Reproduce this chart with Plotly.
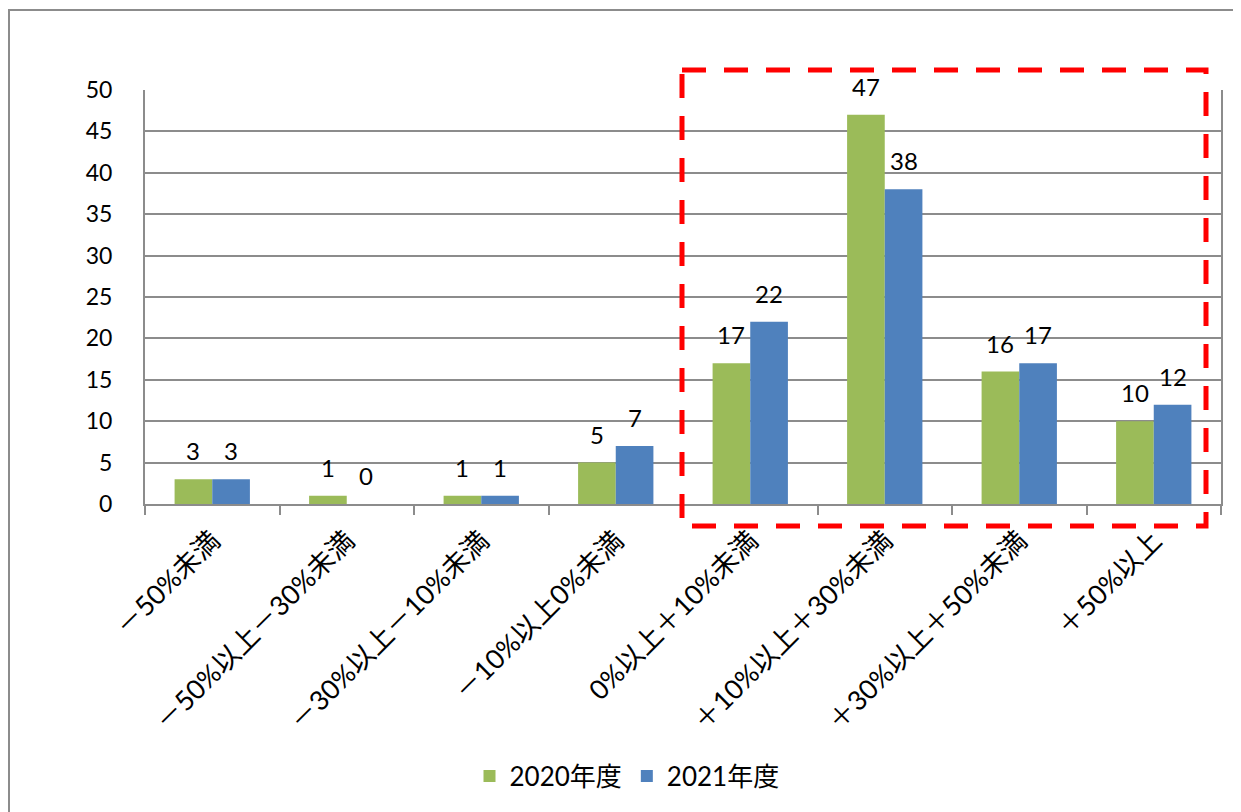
import plotly.graph_objects as go

categories = ["－50%未満", "－50%以上－30%未満", "－30%以上－10%未満", "－10%以上0%未満",
              "0%以上＋10%未満", "＋10%以上＋30%未満", "＋30%以上＋50%未満", "＋50%以上"]
series_names = ["2020年度", "2021年度"]
values_2020 = [3, 1, 1, 5, 17, 47, 16, 10]
values_2021 = [3, 0, 1, 7, 22, 38, 17, 12]
colors = ["#9BBB59", "#4F81BD"]
y_ticks = list(range(0, 51, 5))

OFF = 8  # default page body margin
W, H = 1241 - OFF, 812 - OFF
L, T = 145 - OFF, 90 - OFF
pw, ph = 1076, 414
R = W - L - pw
B = H - T - ph

FONT = "Lato, 'Noto Sans CJK JP', sans-serif"

fig = go.Figure()
for name, vals, col in zip(series_names, [values_2020, values_2021], colors):
    fig.add_trace(go.Bar(x=categories, y=vals, name=name, marker=dict(color=col, line=dict(width=0))))

# data labels
bar_half = pw / len(categories) * (1 - 0.44) / 4
for k, vals in enumerate([values_2020, values_2021]):
    shift = -bar_half if k == 0 else bar_half
    for c, v in zip(categories, vals):
        fig.add_annotation(x=c, y=v, text=str(v), showarrow=False, xref="x", yref="y",
                           xshift=shift, yshift=12, yanchor="bottom",
                           font=dict(family=FONT, size=24, color="#000"))

def px_x(p):
    return (p - OFF - L) / pw

def px_y(p):
    return (H - B - (p - OFF)) / ph

# outer frame
fig.add_shape(type="rect", xref="paper", yref="paper",
              x0=px_x(9), x1=px_x(1260), y0=px_y(10), y1=px_y(830),
              line=dict(color="#8c8c8c", width=2), layer="below")
# red dashed highlight box
fig.add_shape(type="rect", xref="paper", yref="paper",
              x0=px_x(682), x1=px_x(1206), y0=px_y(70), y1=px_y(526),
              line=dict(color="#FF0000", width=5, dash="24px,18px"))

fig.update_layout(
    width=W, height=H,
    margin=dict(l=L, r=R, t=T, b=B, autoexpand=False),
    paper_bgcolor="white", plot_bgcolor="white",
    barmode="group", bargap=0.44, bargroupgap=0,
    font=dict(family=FONT, color="#000"),
    showlegend=True,
    legend=dict(orientation="h", x=px_x(627), xanchor="center", y=px_y(776), yanchor="middle",
                font=dict(family=FONT, size=26), traceorder="normal"),
)
fig.update_xaxes(type="category", showline=True, linecolor="#8c8c8c", linewidth=2,
                 ticks="outside", tickson="boundaries", ticklen=9, tickcolor="#8c8c8c", tickwidth=2,
                 tickangle=-45, ticklabelstandoff=8, tickfont=dict(family=FONT, size=27), showgrid=False)
fig.update_yaxes(range=[0, 50], tickvals=y_ticks, showline=True, linecolor="#8c8c8c", linewidth=2,
                 mirror=True, showgrid=True, gridcolor="#8c8c8c", gridwidth=1.5,
                 ticks="", ticklabelstandoff=26, tickfont=dict(family=FONT, size=23), zeroline=False)

fig.write_html("out.html")
